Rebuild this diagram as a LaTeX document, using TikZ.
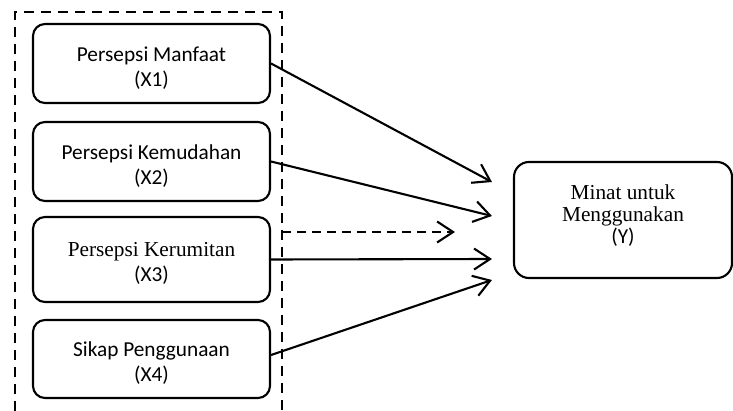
\documentclass[tikz,border=0pt]{standalone}
\usepackage{fontspec}
\setmainfont{Carlito}
\newfontfamily\tnr{Liberation Serif}
\usetikzlibrary{arrows.meta,calc}
\begin{document}
\begin{tikzpicture}[x=1pt,y=-1pt,
  every node/.style={font=\fontsize{21.3}{25}\selectfont},
  varbox/.style={draw,line width=2.1pt,rounded corners=12pt,
    minimum width=237pt,inner sep=0pt},
  vartext/.style={align=center,inner sep=0pt},
  dvbox/.style={draw,line width=2.1pt,rounded corners=15pt,
    minimum width=218pt,minimum height=116pt,inner sep=0pt},
  link/.style={line width=2.1pt,-{Straight Barb[length=16pt,width=21pt]}},
  grp/.style={line width=2.1pt,dash pattern=on 10pt off 7pt},
  dlink/.style={line width=2.1pt,dash pattern=on 9pt off 6pt,-{Straight Barb[length=16pt,width=21pt]}}]
\useasboundingbox (0,0) rectangle (733,411);
% group frame (bottom runs off the picture)
\coordinate (gbl) at (15,411);
\coordinate (gtl) at (15,12);
\coordinate (gtr) at (282,12);
\coordinate (gbr) at (282,411);
\draw[grp] (gbl) -- (gtl) -- (gtr) -- (gbr);
\coordinate (gx) at (282,232);
% boxes
\node[varbox,minimum height=79pt] (x1) at (151.5,63.5) {};
\node[varbox,minimum height=79pt] (x2) at (151.5,161.5) {};
\node[varbox,minimum height=85pt] (x3) at (151.5,259.5) {};
\node[varbox,minimum height=78pt] (x4) at (151.5,359) {};
\node[dvbox] (y) at (623,220) {};
% texts
\node[vartext] (t1) at ($(x1.center)+(0,5)$) {Persepsi Manfaat\\(X1)};
\node[vartext] (t2) at ($(x2.center)+(0,5)$) {Persepsi Kemudahan\\(X2)};
\node[vartext] (t3) at ($(x3.center)+(0,4)$) {{\tnr Persepsi Kerumitan}\\(X3)};
\node[vartext] (t4) at ($(x4.center)+(0,4)$) {Sikap Penggunaan\\(X4)};
\node[vartext,font=\fontsize{21.3}{22}\selectfont] (ty) at ($(y.center)+(0,-4)$) {{\tnr Minat untuk}\\{\tnr Menggunakan}\\(Y)};
% arrow ends
\coordinate (e1) at ($(y.west)+(-21,-38)$);
\coordinate (e2) at ($(y.west)+(-21,-4)$);
\coordinate (e3) at ($(y.west)+(-21,39)$);
\coordinate (e4) at ($(y.west)+(-21,60)$);
\coordinate (ed) at (455,232);
\draw[link] (x1.east) -- (e1);
\draw[link] (x2.east) -- (e2);
\draw[link] (x3.east) -- (e3);
\draw[link] ($(x4.east)+(0,-4)$) -- (e4);
\draw[dlink] (gx) -- (ed);
\end{tikzpicture}
\end{document}
